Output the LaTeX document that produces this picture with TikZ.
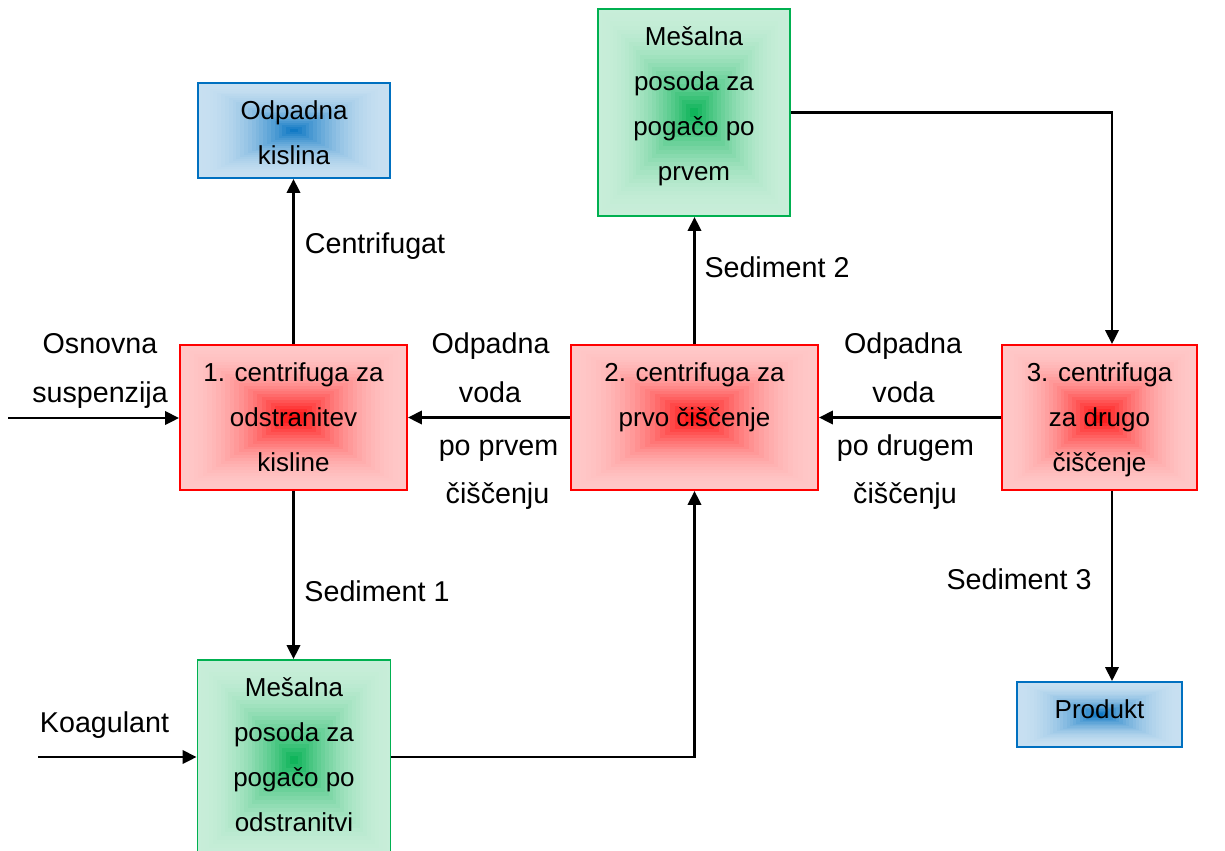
\documentclass[tikz,border=0pt]{standalone}
\usepackage{fontspec}
\setmainfont{Liberation Sans}
\usetikzlibrary{arrows.meta,calc}
\definecolor{cred}{HTML}{FF0000}
\definecolor{cgreen}{HTML}{00B050}
\definecolor{cblue}{HTML}{0070C0}
\newcommand\btx[3]{\parbox[c][#2][t]{#1}{\centering\fontsize{19.5pt}{33.75pt}\selectfont #3\par}}
\begin{document}
\begin{tikzpicture}[x=0.75pt,y=-0.75pt,
  gbox/.style={draw=#1, line width=1.4pt, inner xsep=0pt, inner ysep=13.5pt, fill=#1!22!white,
    path picture={
      \foreach \i in {1,...,24}{
        \pgfmathsetmacro\s{1-\i/25}
        \pgfmathsetmacro\p{22+78*(\i/25)^2}
        \fill[#1!\p!white] ($(path picture bounding box.center)!\s!(path picture bounding box.south west)$) rectangle ($(path picture bounding box.center)!\s!(path picture bounding box.north east)$);
      }}},
  conn/.style={line width=1.8pt, -{Triangle[length=10.5pt,width=10pt]}},
  lbl/.style={anchor=base, inner sep=0pt, font=\fontsize{21.5pt}{25pt}\selectfont}
]
\useasboundingbox (0,0) rectangle (1225,850);

% boxes
\node[gbox=cblue, minimum width=144pt, minimum height=71.25pt] (ok) at (294,130.5) {\btx{144pt}{44.25pt}{Odpadna\\kislina}};
\node[gbox=cgreen, minimum width=144pt, minimum height=155.25pt] (m2) at (694,112.5) {\btx{144pt}{128.25pt}{Mešalna\\posoda za\\pogačo po\\prvem}};
\node[gbox=cred, minimum width=170.25pt, minimum height=108.75pt] (c1) at (293.5,417.5) {\btx{170.25pt}{81.75pt}{1. centrifuga za\\odstranitev\\kisline}};
\node[gbox=cred, minimum width=185.25pt, minimum height=108.75pt] (c2) at (694.5,417.5) {\btx{185.25pt}{81.75pt}{2. centrifuga za\\prvo čiščenje}};
\node[gbox=cred, minimum width=146.25pt, minimum height=108.75pt] (c3) at (1099.5,417.5) {\btx{146.25pt}{81.75pt}{3. centrifuga\\za drugo\\čiščenje}};
\node[gbox=cgreen, minimum width=144.75pt, minimum height=150pt] (m1) at (294,760) {\btx{144.75pt}{123pt}{Mešalna\\posoda za\\pogačo po\\odstranitvi}};
\node[gbox=cblue, minimum width=123.75pt, minimum height=48.75pt] (pr) at (1099.5,714.5) {\btx{123.75pt}{21.75pt}{Produkt}};

% connectors
\coordinate (in1) at (8,418);
\coordinate (in2) at (38,757);
\draw[conn] (in1) -- (in1 -| c1.west);
\draw[conn] (c1.north) -- (c1.north |- ok.south);
\draw[conn] (c1.south) -- (c1.south |- m1.north);
\draw[conn] (in2) -- (in2 -| m1.west);
\draw[conn] (in2 -| m1.east) -| (c2.south);
\draw[conn] (c2.north) -- (c2.north |- m2.south);
\draw[conn] (m2.east) -| ($(c3.north)+(12.5,0)$);
\draw[conn] ($(c3.south)+(12.5,0)$) -- ($(pr.north)+(12.5,0)$);
\draw[conn] (c2.west) -- (c1.east);
\draw[conn] (c3.west) -- (c2.east);

% labels
\node[lbl] (l1a) at (100,353) {Osnovna};
\node[lbl] (l1b) at (100,402) {suspenzija};
\node[lbl] (l2) at (375,253) {Centrifugat};
\node[lbl] (l3) at (377,601.5) {Sediment 1};
\node[lbl] (l4) at (104.5,732) {Koagulant};
\node[lbl] (l5a) at (490.5,353) {Odpadna};
\node[lbl] (l5b) at (490,402) {voda};
\node[lbl] (l5c) at (498.5,455) {po prvem};
\node[lbl] (l5d) at (497.5,503) {čiščenju};
\node[lbl] (l6) at (777,277) {Sediment 2};
\node[lbl] (l7a) at (903,353) {Odpadna};
\node[lbl] (l7b) at (903.5,402) {voda};
\node[lbl] (l7c) at (905.5,455) {po drugem};
\node[lbl] (l7d) at (905,503) {čiščenju};
\node[lbl] (l8) at (1019,589) {Sediment 3};
\end{tikzpicture}
\end{document}
